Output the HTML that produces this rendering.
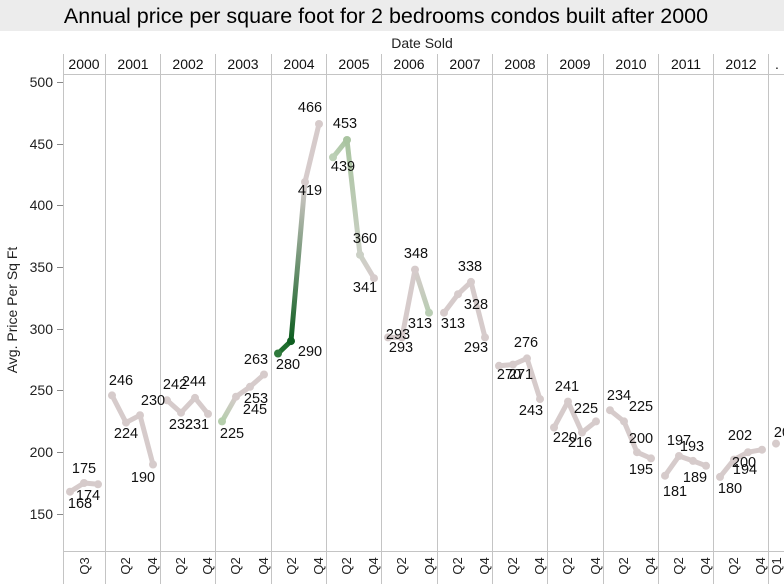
<!DOCTYPE html>
<html><head><meta charset="utf-8"><style>
body{margin:0;background:#fff;}
svg{display:block;font-family:"Liberation Sans",sans-serif;}
</style></head><body>
<svg width="784" height="584" viewBox="0 0 784 584">
<defs>
<linearGradient id="g1" gradientUnits="userSpaceOnUse" x1="222" y1="421" x2="236" y2="397"><stop offset="0" stop-color="#b5ceac"/><stop offset="1" stop-color="#d6cbcb"/></linearGradient>
<linearGradient id="g3" gradientUnits="userSpaceOnUse" x1="291" y1="341" x2="305" y2="182"><stop offset="0" stop-color="#0e5e20"/><stop offset="1" stop-color="#d6cbcb"/></linearGradient>
<linearGradient id="g4" gradientUnits="userSpaceOnUse" x1="333" y1="157" x2="347" y2="140"><stop offset="0" stop-color="#bcd0b6"/><stop offset="1" stop-color="#a9c4a0"/></linearGradient>
<linearGradient id="g5" gradientUnits="userSpaceOnUse" x1="347" y1="140" x2="360" y2="255"><stop offset="0" stop-color="#a9c4a0"/><stop offset="1" stop-color="#cbd0c5"/></linearGradient>
<linearGradient id="g6" gradientUnits="userSpaceOnUse" x1="360" y1="255" x2="374" y2="278"><stop offset="0" stop-color="#cbd0c5"/><stop offset="1" stop-color="#d6cbcb"/></linearGradient>
<linearGradient id="g7" gradientUnits="userSpaceOnUse" x1="415" y1="270" x2="429" y2="313"><stop offset="0" stop-color="#d6cbcb"/><stop offset="1" stop-color="#b9cdb3"/></linearGradient>
</defs>
<rect x="0" y="0" width="784" height="31" fill="#ececec"/>
<text x="386" y="23" font-size="21.5" text-anchor="middle" fill="#000">Annual price per square foot for 2 bedrooms condos built after 2000</text>
<text x="422" y="48" font-size="14" text-anchor="middle" fill="#222">Date Sold</text>
<g stroke="#c4c4c4" stroke-width="1">
<line x1="63.5" y1="54" x2="63.5" y2="584"/>
<line x1="105.5" y1="54" x2="105.5" y2="584"/>
<line x1="160.5" y1="54" x2="160.5" y2="584"/>
<line x1="215.5" y1="54" x2="215.5" y2="584"/>
<line x1="271.5" y1="54" x2="271.5" y2="584"/>
<line x1="326.5" y1="54" x2="326.5" y2="584"/>
<line x1="381.5" y1="54" x2="381.5" y2="584"/>
<line x1="437.5" y1="54" x2="437.5" y2="584"/>
<line x1="492.5" y1="54" x2="492.5" y2="584"/>
<line x1="547.5" y1="54" x2="547.5" y2="584"/>
<line x1="603.5" y1="54" x2="603.5" y2="584"/>
<line x1="658.5" y1="54" x2="658.5" y2="584"/>
<line x1="713.5" y1="54" x2="713.5" y2="584"/>
<line x1="768.5" y1="54" x2="768.5" y2="584"/>
<line x1="63" y1="74.5" x2="784" y2="74.5"/>
<line x1="63" y1="551.5" x2="784" y2="551.5"/>
</g>
<g font-size="14" text-anchor="middle" fill="#111">
<text x="84" y="69">2000</text><text x="133" y="69">2001</text><text x="188" y="69">2002</text><text x="243" y="69">2003</text><text x="299" y="69">2004</text><text x="354" y="69">2005</text><text x="409" y="69">2006</text><text x="465" y="69">2007</text><text x="520" y="69">2008</text><text x="575" y="69">2009</text><text x="631" y="69">2010</text><text x="686" y="69">2011</text><text x="741" y="69">2012</text><text x="777" y="69">.</text>
</g>
<g stroke="#888" stroke-width="1">
<line x1="57" y1="82.5" x2="63" y2="82.5"/><line x1="57" y1="144.5" x2="63" y2="144.5"/><line x1="57" y1="205.5" x2="63" y2="205.5"/><line x1="57" y1="267.5" x2="63" y2="267.5"/><line x1="57" y1="329.5" x2="63" y2="329.5"/><line x1="57" y1="390.5" x2="63" y2="390.5"/><line x1="57" y1="452.5" x2="63" y2="452.5"/><line x1="57" y1="514.5" x2="63" y2="514.5"/>
</g>
<g font-size="14" text-anchor="end" fill="#222">
<text x="53" y="87">500</text><text x="53" y="149">450</text><text x="53" y="210">400</text><text x="53" y="272">350</text><text x="53" y="334">300</text><text x="53" y="395">250</text><text x="53" y="457">200</text><text x="53" y="519">150</text>
</g>
<text transform="translate(17,310) rotate(-90)" font-size="14" text-anchor="middle" fill="#222">Avg. Price Per Sq Ft</text>
<g font-size="13" fill="#222" text-anchor="middle">
<text transform="translate(89,566) rotate(-90)">Q3</text>
<text transform="translate(130,566) rotate(-90)">Q2</text><text transform="translate(157,566) rotate(-90)">Q4</text>
<text transform="translate(185,566) rotate(-90)">Q2</text><text transform="translate(212,566) rotate(-90)">Q4</text>
<text transform="translate(240,566) rotate(-90)">Q2</text><text transform="translate(268,566) rotate(-90)">Q4</text>
<text transform="translate(296,566) rotate(-90)">Q2</text><text transform="translate(323,566) rotate(-90)">Q4</text>
<text transform="translate(351,566) rotate(-90)">Q2</text><text transform="translate(378,566) rotate(-90)">Q4</text>
<text transform="translate(406,566) rotate(-90)">Q2</text><text transform="translate(434,566) rotate(-90)">Q4</text>
<text transform="translate(462,566) rotate(-90)">Q2</text><text transform="translate(489,566) rotate(-90)">Q4</text>
<text transform="translate(517,566) rotate(-90)">Q2</text><text transform="translate(544,566) rotate(-90)">Q4</text>
<text transform="translate(572,566) rotate(-90)">Q2</text><text transform="translate(600,566) rotate(-90)">Q4</text>
<text transform="translate(628,566) rotate(-90)">Q2</text><text transform="translate(655,566) rotate(-90)">Q4</text>
<text transform="translate(683,566) rotate(-90)">Q2</text><text transform="translate(710,566) rotate(-90)">Q4</text>
<text transform="translate(738,566) rotate(-90)">Q2</text><text transform="translate(765,566) rotate(-90)">Q4</text>
<text transform="translate(781,566) rotate(-90)">Q1</text>
</g>
<g fill="none" stroke="#d6cbcb" stroke-width="5" stroke-linecap="round" stroke-linejoin="round">
<polyline points="70,491.7 84,483 98,484.3"/>
<polyline points="112,395.4 126,422.6 140,415.2 153,464.5"/>
<polyline points="167,400.3 181,412.7 195,397.9 208,413.9"/>
<line x1="222" y1="421.4" x2="236" y2="396.7" stroke="url(#g1)"/>
<polyline points="236,396.7 250,386.8 264,374.5"/>
<line x1="278" y1="353.5" x2="291" y2="341.1" stroke="#1f6e2e"/>
<line x1="291" y1="341.1" x2="305" y2="182" stroke="url(#g3)"/>
<line x1="305" y1="182" x2="319" y2="124"/>
<line x1="333" y1="157.3" x2="347" y2="140" stroke="url(#g4)"/>
<line x1="347" y1="140" x2="360" y2="254.8" stroke="url(#g5)"/>
<line x1="360" y1="254.8" x2="374" y2="278.2" stroke="url(#g6)"/>
<polyline points="388,337.4 402,337.4 415,269.6"/>
<line x1="415" y1="269.6" x2="429" y2="312.7" stroke="url(#g7)"/>
<polyline points="444,312.7 458,294.2 471,281.9 485,337.4"/>
<polyline points="499,365.8 513,364.6 527,358.4 540,399.1"/>
<polyline points="554,427.5 568,401.6 582,432.5 596,421.4"/>
<polyline points="610,410.2 624,421.4 637,452.2 651,458.4"/>
<polyline points="665,475.7 679,456 693,460.9 706,465.8"/>
<polyline points="720,476.9 734,459.6 748,452.2 762,449.7"/>
</g>
<g fill="#d6cbcb">
<circle cx="70" cy="491.7" r="4"/><circle cx="84" cy="483" r="4"/><circle cx="98" cy="484.3" r="4"/>
<circle cx="112" cy="395.4" r="4"/><circle cx="126" cy="422.6" r="4"/><circle cx="140" cy="415.2" r="4"/><circle cx="153" cy="464.5" r="4"/>
<circle cx="167" cy="400.3" r="4"/><circle cx="181" cy="412.7" r="4"/><circle cx="195" cy="397.9" r="4"/><circle cx="208" cy="413.9" r="4"/>
<circle cx="222" cy="421.4" r="4" fill="#b5ceac"/><circle cx="236" cy="396.7" r="4"/><circle cx="250" cy="386.8" r="4"/><circle cx="264" cy="374.5" r="4"/>
<circle cx="278" cy="353.5" r="4" fill="#2f7a3c"/><circle cx="291" cy="341.1" r="4" fill="#0e5e20"/><circle cx="305" cy="182" r="4"/><circle cx="319" cy="124" r="4"/>
<circle cx="333" cy="157.3" r="4" fill="#bcd0b6"/><circle cx="347" cy="140" r="4" fill="#a9c4a0"/><circle cx="360" cy="254.8" r="4" fill="#cbd0c5"/><circle cx="374" cy="278.2" r="4"/>
<circle cx="388" cy="337.4" r="4"/><circle cx="402" cy="337.4" r="4"/><circle cx="415" cy="269.6" r="4"/><circle cx="429" cy="312.7" r="4" fill="#b9cdb3"/>
<circle cx="444" cy="312.7" r="4"/><circle cx="458" cy="294.2" r="4"/><circle cx="471" cy="281.9" r="4"/><circle cx="485" cy="337.4" r="4"/>
<circle cx="499" cy="365.8" r="4"/><circle cx="513" cy="364.6" r="4"/><circle cx="527" cy="358.4" r="4"/><circle cx="540" cy="399.1" r="4"/>
<circle cx="554" cy="427.5" r="4"/><circle cx="568" cy="401.6" r="4"/><circle cx="582" cy="432.5" r="4"/><circle cx="596" cy="421.4" r="4"/>
<circle cx="610" cy="410.2" r="4"/><circle cx="624" cy="421.4" r="4"/><circle cx="637" cy="452.2" r="4"/><circle cx="651" cy="458.4" r="4"/>
<circle cx="665" cy="475.7" r="4"/><circle cx="679" cy="456" r="4"/><circle cx="693" cy="460.9" r="4"/><circle cx="706" cy="465.8" r="4"/>
<circle cx="720" cy="476.9" r="4"/><circle cx="734" cy="459.6" r="4"/><circle cx="748" cy="452.2" r="4"/><circle cx="762" cy="449.7" r="4"/>
<circle cx="776" cy="443.6" r="4"/>
</g>
<g font-size="14.5" text-anchor="middle" fill="#111">
<text x="80" y="508">168</text><text x="84" y="473">175</text><text x="88" y="500">174</text>
<text x="121" y="385">246</text><text x="126" y="438">224</text><text x="153" y="405">230</text><text x="143" y="482">190</text>
<text x="175" y="389">242</text><text x="181" y="429">232</text><text x="194" y="386">244</text><text x="197" y="429">231</text>
<text x="232" y="438">225</text><text x="255" y="414">245</text><text x="256" y="403">253</text><text x="256" y="364">263</text>
<text x="288" y="369">280</text><text x="310" y="356">290</text><text x="310" y="195">419</text><text x="310" y="112">466</text>
<text x="343" y="171">439</text><text x="345" y="128">453</text><text x="365" y="243">360</text><text x="365" y="292">341</text>
<text x="398" y="339">293</text><text x="401" y="352">293</text><text x="416" y="258">348</text><text x="420" y="328">313</text>
<text x="453" y="328">313</text><text x="470" y="271">338</text><text x="476" y="309">328</text><text x="476" y="352">293</text>
<text x="509" y="379">270</text><text x="521" y="379">271</text><text x="526" y="347">276</text><text x="531" y="415">243</text>
<text x="565" y="442">220</text><text x="567" y="391">241</text><text x="580" y="447">216</text><text x="586" y="413">225</text>
<text x="619" y="400">234</text><text x="641" y="411">225</text><text x="641" y="443">200</text><text x="641" y="474">195</text>
<text x="675" y="496">181</text><text x="679" y="445">197</text><text x="692" y="451">193</text><text x="695" y="482">189</text>
<text x="730" y="493">180</text><text x="740" y="440">202</text><text x="744" y="467">200</text><text x="745" y="474">194</text>
<text x="786" y="437">207</text>
</g>
</svg>
</body></html>
